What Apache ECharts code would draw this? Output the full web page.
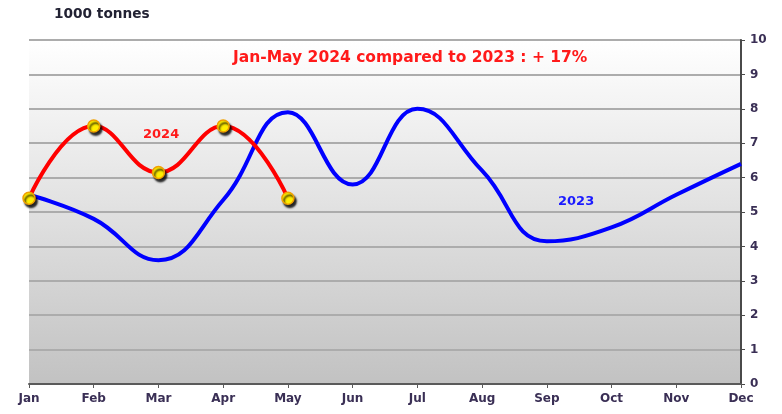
<!DOCTYPE html>
<html>
<head>
<meta charset="utf-8">
<script src="https://cdn.jsdelivr.net/npm/echarts@6/dist/echarts.min.js"></script>
<style>
  html, body { margin: 0; padding: 0; background: #ffffff; }
  #chart { width: 782px; height: 414px; }
</style>
</head>
<body>
<div id="chart"></div>
<script>
// Monthly volumes, in 1000 tonnes
const months = ['Jan', 'Feb', 'Mar', 'Apr', 'May', 'Jun', 'Jul', 'Aug', 'Sep', 'Oct', 'Nov', 'Dec'];
const values2023 = [5.5, 4.8, 3.6, 5.35, 7.9, 5.8, 8.0, 6.2, 4.15, 4.55, 5.5, 6.4];
const values2024 = [5.4, 7.5, 6.15, 7.5, 5.4];
const yTicks = [0, 1, 2, 3, 4, 5, 6, 7, 8, 9, 10];

const labelFont = { fontFamily: 'DejaVu Sans', fontWeight: 'bold', fontSize: 12, color: '#3a2f55' };

const chart = echarts.init(document.getElementById('chart'));
chart.setOption({
  animation: false,
  grid: {
    left: 29, right: 41, top: 40, bottom: 30,
    show: true,
    borderWidth: 0,
    backgroundColor: {
      type: 'linear', x: 0, y: 0, x2: 0, y2: 1,
      colorStops: [
        { offset: 0, color: '#ffffff' },
        { offset: 1, color: '#c2c2c2' }
      ]
    }
  },
  xAxis: {
    type: 'category',
    data: months,
    boundaryGap: false,
    axisLine: { lineStyle: { color: '#5a5a5a', width: 2 } },
    axisTick: { show: true, alignWithLabel: true, length: 4, lineStyle: { color: '#5a5a5a' } },
    axisLabel: Object.assign({ margin: 9 }, labelFont),
    splitLine: { show: false }
  },
  yAxis: {
    type: 'value',
    position: 'right',
    min: yTicks[0],
    max: yTicks[yTicks.length - 1],
    interval: 1,
    axisLine: { show: true, lineStyle: { color: '#4a4a4a', width: 2 } },
    axisTick: { show: true, length: 4, lineStyle: { color: '#4a4a4a' } },
    axisLabel: Object.assign({ margin: 9 }, labelFont),
    splitLine: { show: true, lineStyle: { color: '#acacac', width: 2 } }
  },
  graphic: [
    {
      type: 'text', left: 54, top: 7,
      style: { text: '1000 tonnes', font: 'bold 13.7px "DejaVu Sans"', fill: '#222233' }
    },
    {
      type: 'text', left: 233, top: 50,
      style: { text: 'Jan-May 2024 compared to 2023 : + 17%', font: 'bold 15.5px "DejaVu Sans"', fill: '#ff1a1a' }
    },
    {
      type: 'text', left: 143, top: 128,
      style: { text: '2024', font: 'bold 13px "DejaVu Sans"', fill: '#ff1a1a' }
    },
    {
      type: 'text', left: 558, top: 195,
      style: { text: '2023', font: 'bold 13px "DejaVu Sans"', fill: '#1a1aff' }
    }
  ],
  series: [
    {
      name: '2023',
      type: 'line',
      data: values2023,
      smooth: 0.45,
      symbol: 'none',
      lineStyle: { color: '#0000ff', width: 4 },
      z: 2
    },
    {
      name: '2024',
      type: 'line',
      data: values2024,
      smooth: 0.45,
      symbol: 'circle',
      symbolSize: 12,
      lineStyle: { color: '#ff0000', width: 4 },
      itemStyle: {
        color: '#ffee00',
        borderColor: '#f0a000',
        borderWidth: 1.5,
        shadowColor: 'rgba(0,0,0,0.85)',
        shadowBlur: 2,
        shadowOffsetX: 2,
        shadowOffsetY: 3
      },
      z: 3
    }
  ]
});
</script>
</body>
</html>
